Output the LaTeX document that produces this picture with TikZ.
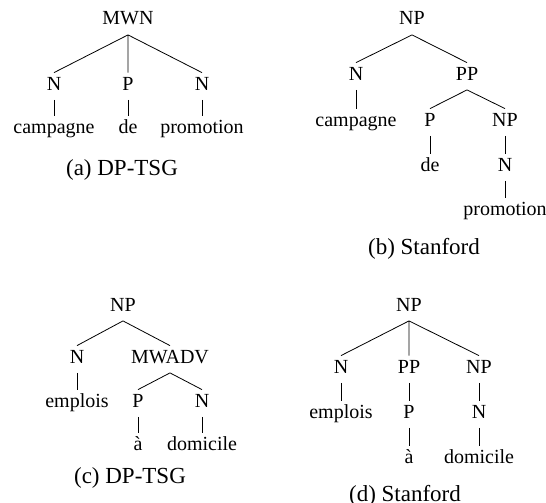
\documentclass[tikz,border=0pt]{standalone}
\usepackage{fontspec}
\setmainfont{Liberation Serif}
\tikzset{
    cat/.style={anchor=base, inner sep=2pt, text height=6.5pt, text depth=2.75pt, font=\fontsize{10}{12}\selectfont},
    caption/.style={anchor=base, inner sep=0pt, font=\fontsize{11.5}{14}\selectfont},
  }

\begin{document}
\begin{tikzpicture}[x=0.5pt,y=-0.5pt]
				  \useasboundingbox (0,0) rectangle (546,503);
				  %(a) DP-TSG
				  \node[cat] (aMWN) at (128,25) {MWN};
				  \node[cat] (aN1) at (54,90) {N};
				  \node[cat] (aP) at (128,90) {P};
				  \node[cat] (aN2) at (202,90) {N};
				  \node[cat] (acampagne) at (54,133) {campagne};
				  \node[cat] (ade) at (128,133) {de};
				  \node[cat] (apromotion) at (202,133) {promotion};
				  \draw (aMWN.south) -- (aN1.north) (aMWN.south) -- (aP.north) (aMWN.south) -- (aN2.north);
				  \draw (aN1) -- (acampagne) (aP) -- (ade) (aN2) -- (apromotion);
				  \node[caption] (acap) at (122,175) {(a) DP-TSG};
				  %(b) Stanford
				  \node[cat] (bNP) at (412,25) {NP};
				  \node[cat] (bN) at (356,80) {N};
				  \node[cat] (bPP) at (467,80) {PP};
				  \node[cat] (bcampagne) at (356,126) {campagne};
				  \node[cat] (bP) at (430,126) {P};
				  \node[cat] (bNP2) at (505,126) {NP};
				  \node[cat] (bde) at (430,171) {de};
				  \node[cat] (bN2) at (505,171) {N};
				  \node[cat] (bpromotion) at (505,215) {promotion};
				  \draw (bNP.south) -- (bN.north) (bNP.south) -- (bPP.north);
				  \draw (bPP.south) -- (bP.north) (bPP.south) -- (bNP2.north);
				  \draw (bN) -- (bcampagne) (bP) -- (bde) (bNP2) -- (bN2) (bN2) -- (bpromotion);
				  \node[caption] (bcap) at (424,254) {(b) Stanford};
				  %(c) DP-TSG
				  \node[cat] (cNP) at (123,311) {NP};
				  \node[cat] (cN) at (77,363) {N};
				  \node[cat] (cMWADV) at (170,363) {MWADV};
				  \node[cat] (cemplois) at (77,407) {emplois};
				  \node[cat] (cP) at (138,407) {P};
				  \node[cat] (cN2) at (202,407) {N};
				  \node[cat] (ca) at (138,450) {à};
				  \node[cat] (cdomicile) at (202,450) {domicile};
				  \draw (cNP.south) -- (cN.north) (cNP.south) -- (cMWADV.north);
				  \draw (cMWADV.south) -- (cP.north) (cMWADV.south) -- (cN2.north);
				  \draw (cN) -- (cemplois) (cP) -- (ca) (cN2) -- (cdomicile);
				  \node[caption] (ccap) at (130,483) {(c) DP-TSG};
				  %(d) Stanford
				  \node[cat] (dNP) at (409,311) {NP};
				  \node[cat] (dN) at (341,373) {N};
				  \node[cat] (dPP) at (409,373) {PP};
				  \node[cat] (dNP2) at (479,373) {NP};
				  \node[cat] (demplois) at (341,418) {emplois};
				  \node[cat] (dP) at (409,418) {P};
				  \node[cat] (dN2) at (479,418) {N};
				  \node[cat] (da) at (409,463) {à};
				  \node[cat] (ddomicile) at (479,463) {domicile};
				  \draw (dNP.south) -- (dN.north) (dNP.south) -- (dPP.north) (dNP.south) -- (dNP2.north);
				  \draw (dN) -- (demplois) (dPP) -- (dP) (dNP2) -- (dN2) (dP) -- (da) (dN2) -- (ddomicile);
				  \node[caption] (dcap) at (405,501) {(d) Stanford};
				  \end{tikzpicture}
\end{document}
